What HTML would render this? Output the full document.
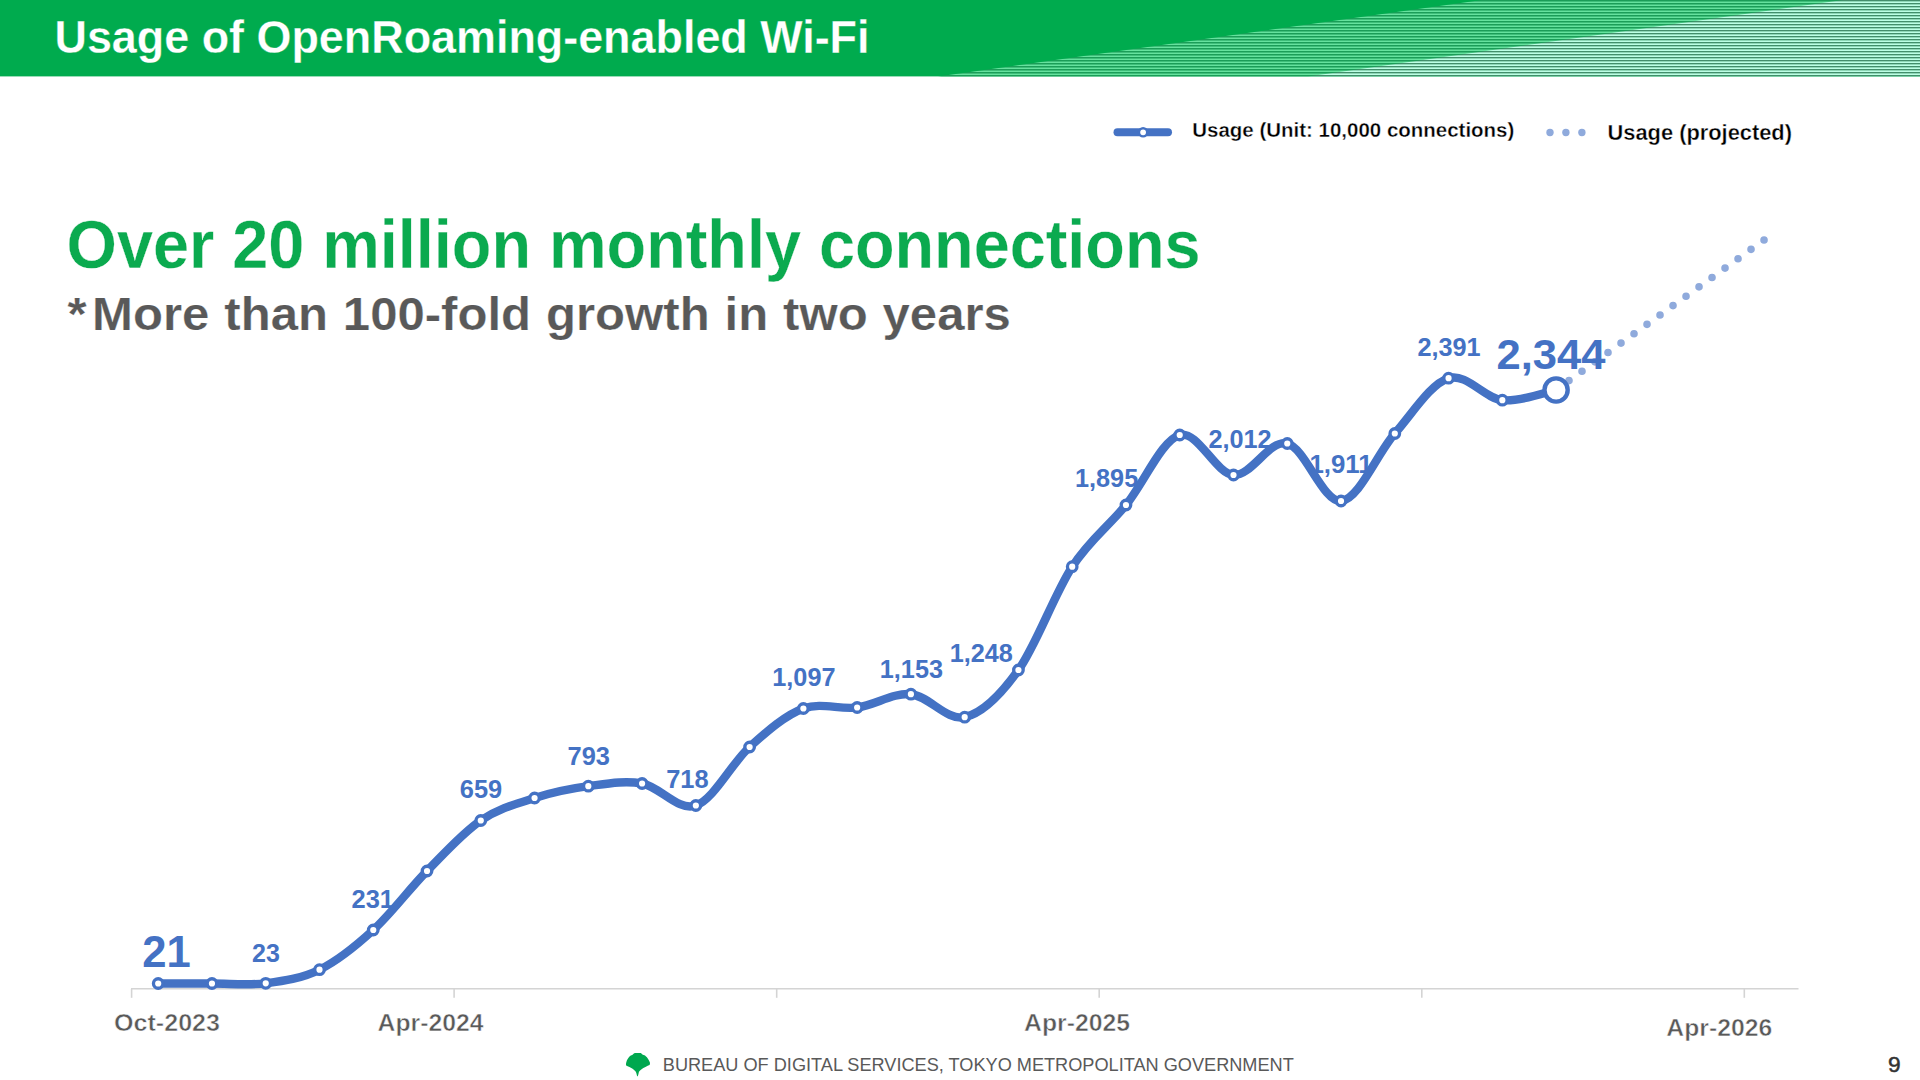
<!DOCTYPE html>
<html lang="en"><head><meta charset="utf-8"><title>Usage of OpenRoaming-enabled Wi-Fi</title>
<style>
html,body{margin:0;padding:0;background:#fff;}
body{width:1920px;height:1080px;overflow:hidden;}
svg{display:block;}
text{font-family:"Liberation Sans",sans-serif;}
.b{font-weight:700;}
.dl{font-weight:700;fill:#4472C4;font-size:25px;text-anchor:middle;}
.ax{font-weight:700;fill:#595959;font-size:23.5px;stroke:#fff;stroke-width:0.5px;paint-order:fill stroke;}
.lg{font-weight:700;fill:#000;}
</style></head><body>
<svg width="1920" height="1080" viewBox="0 0 1920 1080">
<defs>
<pattern id="st1" x="0" y="0" width="8" height="3" patternUnits="userSpaceOnUse"><rect x="0" y="0" width="8" height="1" fill="#1B9D58"/><rect x="0" y="1" width="8" height="1" fill="#3FBE7A"/><rect x="0" y="2" width="8" height="1" fill="#65E29E"/></pattern>
<pattern id="st2" x="0" y="0" width="8" height="3" patternUnits="userSpaceOnUse"><rect x="0" y="0" width="8" height="1" fill="#428E6B"/><rect x="0" y="1" width="8" height="1" fill="#8ED7B7"/><rect x="0" y="2" width="8" height="1" fill="#BCFFE5"/></pattern>
</defs>

<g id="header">
<rect x="0" y="0" width="1920" height="76.4" fill="#00AB4E"/>
<polygon points="938,76.4 1482,0 1920,0 1920,76.4" fill="url(#st1)"/>
<polygon points="1308,76.4 1843,0 1920,0 1920,76.4" fill="url(#st2)"/>
<text class="b" x="54.5" y="53.1" font-size="47" fill="#fff" textLength="815" lengthAdjust="spacingAndGlyphs" stroke="#00AB4E" stroke-width="0.3" paint-order="fill stroke">Usage of OpenRoaming-enabled Wi-Fi</text>
</g>
<g id="legend">
<line x1="1117.5" y1="132.3" x2="1168" y2="132.3" stroke="#4472C4" stroke-width="8" stroke-linecap="round"/>
<circle cx="1143.1" cy="132.3" r="4.1" fill="#fff" stroke="#4472C4" stroke-width="2.4"/>
<text class="lg" x="1192.3" y="136.6" font-size="20.3" stroke="#fff" stroke-width="0.35" paint-order="fill stroke" textLength="322" lengthAdjust="spacingAndGlyphs">Usage (Unit: 10,000 connections)</text>
<circle cx="1550.0" cy="132.5" r="3.7" fill="#8FAADC"/>
<circle cx="1565.9" cy="132.5" r="3.7" fill="#8FAADC"/>
<circle cx="1581.9" cy="132.5" r="3.7" fill="#8FAADC"/>
<text class="lg" x="1607.5" y="140" font-size="21.2" stroke="#fff" stroke-width="0.35" paint-order="fill stroke" textLength="184.5" lengthAdjust="spacingAndGlyphs">Usage (projected)</text>
</g>
<g id="headline">
<text class="b" x="66.5" y="267.6" font-size="68" fill="#0BAA4F" textLength="1134" lengthAdjust="spacingAndGlyphs" stroke="#fff" stroke-width="0.3" paint-order="fill stroke">Over 20 million monthly connections</text>
<g transform="translate(67.6,329.8) scale(1.079,1)"><text class="b" x="0" y="0" font-size="45.5" fill="#595959" word-spacing="1.2" stroke="#fff" stroke-width="0.2" paint-order="fill stroke">*<tspan dx="5">More</tspan> than 100-fold growth in two years</text></g>
</g>
<g id="chart">
<g stroke="#D4D4D4" stroke-width="1.6" fill="none"><line x1="131" y1="988.8" x2="1798.5" y2="988.8"/>
<line x1="131.6" y1="988.8" x2="131.6" y2="997.8"/>
<line x1="454.1" y1="988.8" x2="454.1" y2="997.8"/>
<line x1="776.7" y1="988.8" x2="776.7" y2="997.8"/>
<line x1="1099.2" y1="988.8" x2="1099.2" y2="997.8"/>
<line x1="1421.8" y1="988.8" x2="1421.8" y2="997.8"/>
<line x1="1744.3" y1="988.8" x2="1744.3" y2="997.8"/>
</g>
<text class="ax" x="114" y="1030.8" textLength="106" lengthAdjust="spacingAndGlyphs">Oct-2023</text>
<text class="ax" x="377.5" y="1031" textLength="106" lengthAdjust="spacingAndGlyphs">Apr-2024</text>
<text class="ax" x="1024" y="1031" textLength="106" lengthAdjust="spacingAndGlyphs">Apr-2025</text>
<text class="ax" x="1666.3" y="1035.8" textLength="106" lengthAdjust="spacingAndGlyphs">Apr-2026</text>
<line x1="1556" y1="390" x2="1764.3" y2="239.8" stroke="#8FAADC" stroke-width="7.6" stroke-linecap="round" stroke-dasharray="0 16.03"/>
<text class="dl" x="266.0" y="961.8" textLength="27.8" lengthAdjust="spacingAndGlyphs">23</text>
<text class="dl" x="372.7" y="908.2" textLength="42.4" lengthAdjust="spacingAndGlyphs">231</text>
<text class="dl" x="481.0" y="798.3" textLength="42.4" lengthAdjust="spacingAndGlyphs">659</text>
<text class="dl" x="588.8" y="764.5" textLength="42.4" lengthAdjust="spacingAndGlyphs">793</text>
<text class="dl" x="687.4" y="788.4" textLength="42.4" lengthAdjust="spacingAndGlyphs">718</text>
<text class="dl" x="803.9" y="686.4" textLength="63.2" lengthAdjust="spacingAndGlyphs">1,097</text>
<text class="dl" x="911.4" y="678.2" textLength="63.2" lengthAdjust="spacingAndGlyphs">1,153</text>
<text class="dl" x="981.3" y="662.2" textLength="63.2" lengthAdjust="spacingAndGlyphs">1,248</text>
<text class="dl" x="1106.6" y="487.0" textLength="63.2" lengthAdjust="spacingAndGlyphs">1,895</text>
<text class="dl" x="1240.0" y="447.6" textLength="63.2" lengthAdjust="spacingAndGlyphs">2,012</text>
<text class="dl" x="1341.0" y="473.4" textLength="63.2" lengthAdjust="spacingAndGlyphs">1,911</text>
<text class="dl" x="1449.0" y="356.4" textLength="63.2" lengthAdjust="spacingAndGlyphs">2,391</text>
<path d="M158.20 983.50 C167.16 983.50 194.04 983.53 211.96 983.50 C229.89 983.47 247.81 985.60 265.73 983.30 C283.65 981.00 301.57 978.58 319.50 969.70 C337.42 960.82 355.34 946.45 373.26 930.00 C391.18 913.55 409.10 889.25 427.02 871.00 C444.95 852.75 462.87 832.67 480.79 820.50 C498.71 808.33 516.63 803.72 534.56 798.00 C552.48 792.28 570.40 788.62 588.32 786.20 C606.24 783.78 624.16 780.28 642.09 783.50 C660.01 786.72 677.93 811.58 695.85 805.50 C713.77 799.42 731.69 763.17 749.62 747.00 C767.54 730.83 785.46 715.08 803.38 708.50 C821.30 701.92 839.22 709.88 857.14 707.50 C875.07 705.12 892.99 692.58 910.91 694.20 C928.83 695.82 946.75 721.23 964.67 717.20 C982.60 713.17 1000.52 695.08 1018.44 670.00 C1036.36 644.92 1054.28 594.20 1072.20 566.70 C1090.13 539.20 1108.05 526.95 1125.97 505.00 C1143.89 483.05 1161.81 440.00 1179.73 435.00 C1197.66 430.00 1215.58 473.58 1233.50 475.00 C1251.42 476.42 1269.34 439.17 1287.27 443.50 C1305.19 447.83 1323.11 502.67 1341.03 501.00 C1358.95 499.33 1376.87 453.97 1394.80 433.50 C1412.72 413.03 1430.64 383.75 1448.56 378.20 C1466.48 372.65 1484.40 398.23 1502.33 400.20 C1520.25 402.17 1547.13 391.70 1556.09 390.00" fill="none" stroke="#4472C4" stroke-width="8.4" stroke-linecap="round" stroke-linejoin="round"/>
<circle cx="158.20" cy="983.50" r="4.75" fill="#fff" stroke="#4472C4" stroke-width="3.3"/>
<circle cx="211.96" cy="983.50" r="4.75" fill="#fff" stroke="#4472C4" stroke-width="3.3"/>
<circle cx="265.73" cy="983.30" r="4.75" fill="#fff" stroke="#4472C4" stroke-width="3.3"/>
<circle cx="319.50" cy="969.70" r="4.75" fill="#fff" stroke="#4472C4" stroke-width="3.3"/>
<circle cx="373.26" cy="930.00" r="4.75" fill="#fff" stroke="#4472C4" stroke-width="3.3"/>
<circle cx="427.02" cy="871.00" r="4.75" fill="#fff" stroke="#4472C4" stroke-width="3.3"/>
<circle cx="480.79" cy="820.50" r="4.75" fill="#fff" stroke="#4472C4" stroke-width="3.3"/>
<circle cx="534.56" cy="798.00" r="4.75" fill="#fff" stroke="#4472C4" stroke-width="3.3"/>
<circle cx="588.32" cy="786.20" r="4.75" fill="#fff" stroke="#4472C4" stroke-width="3.3"/>
<circle cx="642.09" cy="783.50" r="4.75" fill="#fff" stroke="#4472C4" stroke-width="3.3"/>
<circle cx="695.85" cy="805.50" r="4.75" fill="#fff" stroke="#4472C4" stroke-width="3.3"/>
<circle cx="749.62" cy="747.00" r="4.75" fill="#fff" stroke="#4472C4" stroke-width="3.3"/>
<circle cx="803.38" cy="708.50" r="4.75" fill="#fff" stroke="#4472C4" stroke-width="3.3"/>
<circle cx="857.14" cy="707.50" r="4.75" fill="#fff" stroke="#4472C4" stroke-width="3.3"/>
<circle cx="910.91" cy="694.20" r="4.75" fill="#fff" stroke="#4472C4" stroke-width="3.3"/>
<circle cx="964.67" cy="717.20" r="4.75" fill="#fff" stroke="#4472C4" stroke-width="3.3"/>
<circle cx="1018.44" cy="670.00" r="4.75" fill="#fff" stroke="#4472C4" stroke-width="3.3"/>
<circle cx="1072.20" cy="566.70" r="4.75" fill="#fff" stroke="#4472C4" stroke-width="3.3"/>
<circle cx="1125.97" cy="505.00" r="4.75" fill="#fff" stroke="#4472C4" stroke-width="3.3"/>
<circle cx="1179.73" cy="435.00" r="4.75" fill="#fff" stroke="#4472C4" stroke-width="3.3"/>
<circle cx="1233.50" cy="475.00" r="4.75" fill="#fff" stroke="#4472C4" stroke-width="3.3"/>
<circle cx="1287.27" cy="443.50" r="4.75" fill="#fff" stroke="#4472C4" stroke-width="3.3"/>
<circle cx="1341.03" cy="501.00" r="4.75" fill="#fff" stroke="#4472C4" stroke-width="3.3"/>
<circle cx="1394.80" cy="433.50" r="4.75" fill="#fff" stroke="#4472C4" stroke-width="3.3"/>
<circle cx="1448.56" cy="378.20" r="4.75" fill="#fff" stroke="#4472C4" stroke-width="3.3"/>
<circle cx="1502.33" cy="400.20" r="4.75" fill="#fff" stroke="#4472C4" stroke-width="3.3"/>
<circle cx="1556.09" cy="390.00" r="11.6" fill="#fff" stroke="#4472C4" stroke-width="4.4"/>
<text class="b" x="166.4" y="966.7" font-size="44.5" fill="#4472C4" text-anchor="middle" textLength="48.5" lengthAdjust="spacingAndGlyphs">21</text>
<text class="b" x="1551" y="369.4" font-size="42.6" fill="#4472C4" text-anchor="middle" textLength="109" lengthAdjust="spacingAndGlyphs">2,344</text>
</g>
<g id="footer">
<g transform="translate(626,1053)"><path fill="#00A84F" d="M9.2 0.05 L14.7 0.05 C15.3 0.3 15.7 0.6 15.9 0.9 L16.8 1.8 C18 2 19 2.5 19.5 2.9 C21.5 4.5 23 7 23.9 9.6 C24.1 10.5 24 11.3 23.6 11.9 C21 12.9 18.5 14.2 17.3 15.1 C15.5 16.3 13.5 18 12.9 18.9 C12.6 20 12.3 22 11.7 23.3 L11.1 23.3 C10.9 22 10.5 20 9.9 18.9 C9.3 18 7.5 16.3 6.2 15.5 C4.5 14.3 2.5 13.4 0.5 12.7 C-0.1 12 -0.2 11 0.3 9.2 C1 6.5 2.5 4.3 4 2.9 C5 2.3 6 2 6.6 1.8 L7.3 0.9 C7.8 0.5 8.5 0.2 9.2 0.05 Z"/></g>
<text x="662.8" y="1071" font-size="18.4" fill="#595959" textLength="631" lengthAdjust="spacingAndGlyphs">BUREAU OF DIGITAL SERVICES, TOKYO METROPOLITAN GOVERNMENT</text>
<text x="1888" y="1071.7" font-size="22.7" fill="#333" stroke="#333" stroke-width="0.5">9</text>
</g>
</svg></body></html>
